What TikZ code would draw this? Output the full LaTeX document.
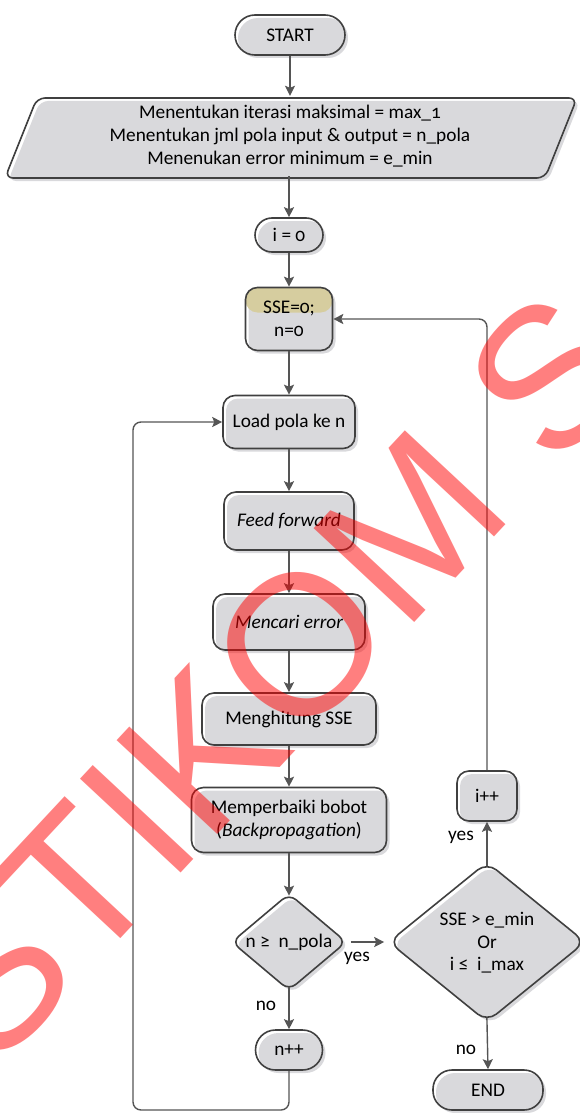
\documentclass[tikz,border=0pt]{standalone}
\usepackage{fontspec}
\setmainfont{Carlito}[Numbers=OldStyle]
\newfontfamily\wmfont{Liberation Sans}
\usetikzlibrary{shapes.geometric,shadows,arrows.meta,calc}
\definecolor{boxgray}{HTML}{D9D9DC}
\definecolor{edgec}{HTML}{404040}
\definecolor{linec}{HTML}{555555}
\definecolor{tanc}{HTML}{D6CD9F}
\begin{document}
\begin{tikzpicture}[x=1pt,y=-1pt,
  txt/.style={font=\fontsize{19.3}{23}\selectfont, align=center, inner sep=0pt},
  base/.style={txt, draw=edgec, line width=1.6pt,
     general shadow={fill=boxgray, shadow xshift=3pt, shadow yshift=-3pt}},
  term/.style={base, rectangle},
  procbox/.style={base, rectangle, rounded corners=12pt},
  decis/.style={base, diamond},
  conn/.style={draw=linec, line width=1.4pt, -{Stealth[length=10pt,width=10pt,inset=2pt]}},
  lbl/.style={txt},
  wmark/.style={text=red, text opacity=0.5, inner sep=0pt, font=\wmfont\fontsize{200}{200}\selectfont}
]
\useasboundingbox (0,0) rectangle (580,1113);

% main column
\node[term, rounded corners=20pt, minimum width=110pt, minimum height=40pt] (start) at (290,35) {START};

\path[draw=edgec, line width=1.6pt, rounded corners=8pt,
  general shadow={fill=boxgray, shadow xshift=3pt, shadow yshift=-3pt}]
  (5,178) -- (37,98) -- (577,98) -- (545,178) -- cycle;
\node[txt, minimum width=500pt, minimum height=80pt] (par) at (290,136)
  {Menentukan iterasi maksimal = max\_1\\Menentukan jml pola input \& output = n\_pola\\Menenukan error minimum = e\_min};

\node[term, rounded corners=17pt, minimum width=68pt, minimum height=34pt] (izero) at (289,235) {i = 0};

\node[procbox, minimum width=87pt, minimum height=63pt,
  path picture={\fill[tanc] (path picture bounding box.north west) rectangle ($(path picture bounding box.north east)+(0,25)$);}]
  (sse) at (289,319) {SSE=0;\\n=0};

\node[procbox, minimum width=132pt, minimum height=53pt] (load) at (289,422) {Load pola ke n};
\node[procbox, minimum width=130pt, minimum height=58pt] (feed) at (289,521) {\itshape Feed forward};
\node[procbox, minimum width=152pt, minimum height=56pt] (err) at (289,622) {\itshape Mencari error};
\node[procbox, minimum width=174pt, minimum height=52pt] (hit) at (289,719) {Menghitung SSE};
\node[procbox, minimum width=195pt, minimum height=65pt] (bob) at (289,820) {Memperbaiki bobot\\(\textit{Backpropagation})};

\node[decis, rounded corners=9pt, minimum width=115pt, minimum height=97pt] (d1) at (289,942) {};
\node[txt] (d1t) at (289,942) {n ≥\ \ n\_pola};

\node[term, rounded corners=20pt, minimum width=67pt, minimum height=40pt] (npp) at (289,1050) {n++};

% right column
\node[decis, rounded corners=12pt, minimum width=197pt, minimum height=160pt] (d2) at (487,942) {};
\node[txt, font=\fontsize{19.3}{22.5}\selectfont] (d2t) at (487,943) {SSE > e\_min\\Or\\i ≤\ \ i\_max};

\node[term, rounded corners=19pt, minimum width=110pt, minimum height=40pt] (endn) at (488,1090) {END};
\node[procbox, minimum width=60pt, minimum height=50pt] (ipp) at (487,796) {i++};

\coordinate (lb) at (133,1110);

% connectors
\draw[conn] (start.south) -- (start.south |- par.north);
\draw[conn] (izero.north |- par.south) -- (izero.north);
\draw[conn] (izero.south) -- (sse.north);
\draw[conn] (sse.south) -- (load.north);
\draw[conn] (load.south) -- (feed.north);
\draw[conn] (feed.south) -- (err.north);
\draw[conn] (err.south) -- (hit.north);
\draw[conn] (hit.south) -- (bob.north);
\draw[conn, shorten >=-3pt] (bob.south) -- (d1.north);
\draw[conn, shorten <=-4pt] (d1.south) -- (npp.north);
\draw[conn, rounded corners=8pt] (npp.south) |- (lb) |- (load.west);
\draw[conn, shorten <=3.5pt, shorten >=3.5pt] (d1.east) -- (d2.west);
\draw[conn, shorten <=-5pt] (d2.south) -- (endn.north);
\draw[conn, shorten <=-5pt] (d2.north) -- (ipp.south);
\draw[conn, rounded corners=8pt] (ipp.north) |- (sse.east);

% labels
\node[lbl] (lyes1) at (357,958) {yes};
\node[lbl] (lno1) at (266,1006) {no};
\node[lbl] (lyes2) at (461,837) {yes};
\node[lbl] (lno2) at (466,1050) {no};

% watermark
\node[wmark, rotate=47, anchor=base west] (wm) at (-6,1074) {STIKOM S};
\end{tikzpicture}
\end{document}
